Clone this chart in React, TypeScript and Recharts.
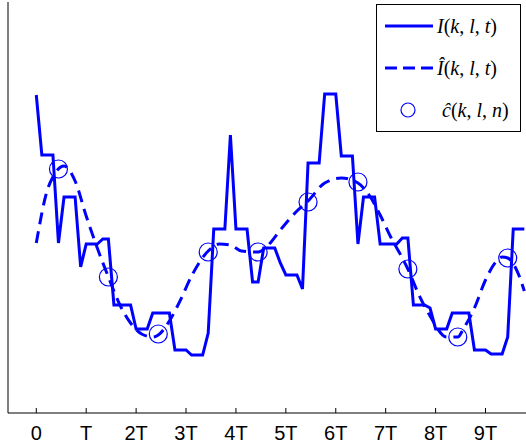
import { ComposedChart, Line, Scatter, XAxis, YAxis, Legend, ReferenceLine } from 'recharts';

// x is the sample index (9 samples per period T), y is the intensity in plot units
const SAMPLE_N = [
  0, 1, 2, 3, 4, 5, 6, 7, 8, 9, 10, 11, 12, 13, 14, 15, 16, 17, 18, 19, 20, 21, 22, 23, 24, 25, 26, 27, 28, 29,
  30, 31, 32, 33, 34, 35, 36, 37, 38, 39, 40, 41, 42, 43, 44, 45, 46, 47, 48, 49, 50, 51, 52, 53, 54, 55, 56, 57, 58, 59,
  60, 61, 62, 63, 64, 65, 66, 67, 68, 69, 70, 71, 72, 73, 74, 75, 76, 77, 78, 79, 80, 81, 82, 83, 84, 85, 86, 87, 88,
];
const INTENSITY = [
  318, 258, 258, 258, 170, 216, 216, 216, 146, 169, 169, 169, 174, 174, 108, 108, 108, 108, 84, 84, 84, 100, 100, 100, 100, 63, 63, 63, 58, 58,
  58, 80, 184, 184, 184, 278, 184, 184, 184, 131, 131, 165, 165, 165, 150, 138, 138, 138, 124, 250, 250, 250, 319, 319, 319, 257, 257, 257, 169, 216,
  216, 216, 169, 169, 169, 169, 175, 175, 108, 108, 108, 105, 84, 84, 84, 100, 100, 100, 100, 63, 63, 63, 59, 59, 59, 76, 184, 184, 184,
];

const SMOOTH_N = [0, 2, 3, 5, 7, 9, 11, 13, 15, 17, 19, 21, 22, 24, 26, 28, 31, 33, 35, 37, 40, 42, 44, 47, 49, 52, 55, 58, 60, 62, 64, 66, 67, 69, 71, 74, 76, 77, 79, 81, 83, 84, 85, 87, 88];
const SMOOTH_V = [170, 223, 236, 247, 232, 197, 165, 136, 109, 90, 79, 76, 78, 92, 113, 137, 162, 169, 168, 162, 161, 169, 183, 202, 212, 230, 235, 230, 218, 198, 175, 155, 144, 118, 97, 76, 76, 84, 105, 133, 152, 156, 155, 138, 122];

const COEF_N = [4, 13, 22, 31, 40, 49, 58, 67, 76, 85];
const COEF_V = [244, 136, 79, 161, 161, 211, 231, 144, 76, 155];

const TICK_VALUES = [0, 9, 18, 27, 36, 45, 54, 63, 72, 81];
const TICK_LABELS = ['0', 'T', '2T', '3T', '4T', '5T', '6T', '7T', '8T', '9T'];

const X_DOMAIN = [-5.1, 88.3];
const BLUE = '#0000ff';

const intensityData = SAMPLE_N.map((n, i) => ({ n, v: INTENSITY[i] }));
const smoothData = SMOOTH_N.map((n, i) => ({ n, v: SMOOTH_V[i] }));
const coefData = COEF_N.map((n, i) => ({ n, v: COEF_V[i] }));

const AxisTick = ({ x, y, payload }: any) => (
  <g>
    <line x1={x} x2={x} y1={y} y2={y - 5} stroke="#000" strokeWidth={1} />
    <text x={x} y={y + 27} textAnchor="middle" fontSize={20} fontFamily="'Liberation Sans', Arial, sans-serif" fill="#000">
      {TICK_LABELS[TICK_VALUES.indexOf(payload.value)]}
    </text>
  </g>
);

const Circle = ({ cx, cy }: any) => <circle cx={cx} cy={cy} r={9} fill="none" stroke={BLUE} strokeWidth={1.2} />;

const MathLabel = ({ x, y, hat, body, last }: { x: number; y: number; hat: string; body: string; last: string }) => (
  <text x={x} y={y} fontSize={20} fontFamily="'Liberation Serif', 'Times New Roman', serif" fill="#000">
    <tspan fontStyle="italic">{hat}</tspan>
    <tspan>(</tspan>
    <tspan fontStyle="italic">{body}</tspan>
    <tspan>, </tspan>
    <tspan fontStyle="italic">l</tspan>
    <tspan>, </tspan>
    <tspan fontStyle="italic">{last}</tspan>
    <tspan>)</tspan>
  </text>
);

const LegendBox = () => (
  <svg width={145} height={128} style={{ display: 'block' }}>
    <rect x={0.5} y={0.5} width={144} height={127} fill="#fff" stroke="#000" strokeWidth={1} />
    <line x1={9} x2={57} y1={22} y2={22} stroke={BLUE} strokeWidth={3} />
    <MathLabel x={61} y={29} hat="I" body="k" last="t" />
    <line x1={9} x2={57} y1={64} y2={64} stroke={BLUE} strokeWidth={3} strokeDasharray="12 6" />
    <MathLabel x={61} y={71} hat="Î" body="k" last="t" />
    <circle cx={32} cy={106} r={7} fill="none" stroke={BLUE} strokeWidth={1.2} />
    <MathLabel x={66} y={113} hat="ĉ" body="k" last="n" />
  </svg>
);

export default function App() {
  return (
    <div style={{ position: 'absolute', left: 0, top: 0, width: 526, height: 443, overflow: 'hidden', background: '#fff' }}>
      <ComposedChart width={526} height={443} margin={{ top: 2, right: 0, bottom: 0, left: 8 }}>
        <XAxis
          type="number"
          dataKey="n"
          domain={X_DOMAIN}
          allowDataOverflow
          ticks={TICK_VALUES}
          interval={0}
          height={30}
          tickSize={0}
          tickMargin={0}
          tickLine={false}
          tick={<AxisTick />}
          axisLine={{ stroke: '#000', strokeWidth: 1 }}
        />
        <YAxis type="number" dataKey="v" domain={[0, 411]} allowDataOverflow hide />
        <ReferenceLine x={X_DOMAIN[0]} stroke="#000" strokeWidth={1} />
        <Legend
          layout="vertical"
          align="center"
          verticalAlign="middle"
          content={<LegendBox />}
          wrapperStyle={{ left: 376, top: 4, width: 145, height: 128 }}
        />
        <Line data={intensityData} dataKey="v" name="I(k,l,t)" type="linear" stroke={BLUE} strokeWidth={3} dot={false} isAnimationActive={false} />
        <Line
          data={smoothData}
          dataKey="v"
          name="Î(k,l,t)"
          type="monotone"
          stroke={BLUE}
          strokeWidth={3}
          strokeDasharray="12 7"
          dot={false}
          isAnimationActive={false}
        />
        <Scatter data={coefData} dataKey="v" name="ĉ(k,l,n)" shape={<Circle />} isAnimationActive={false} />
      </ComposedChart>
    </div>
  );
}
